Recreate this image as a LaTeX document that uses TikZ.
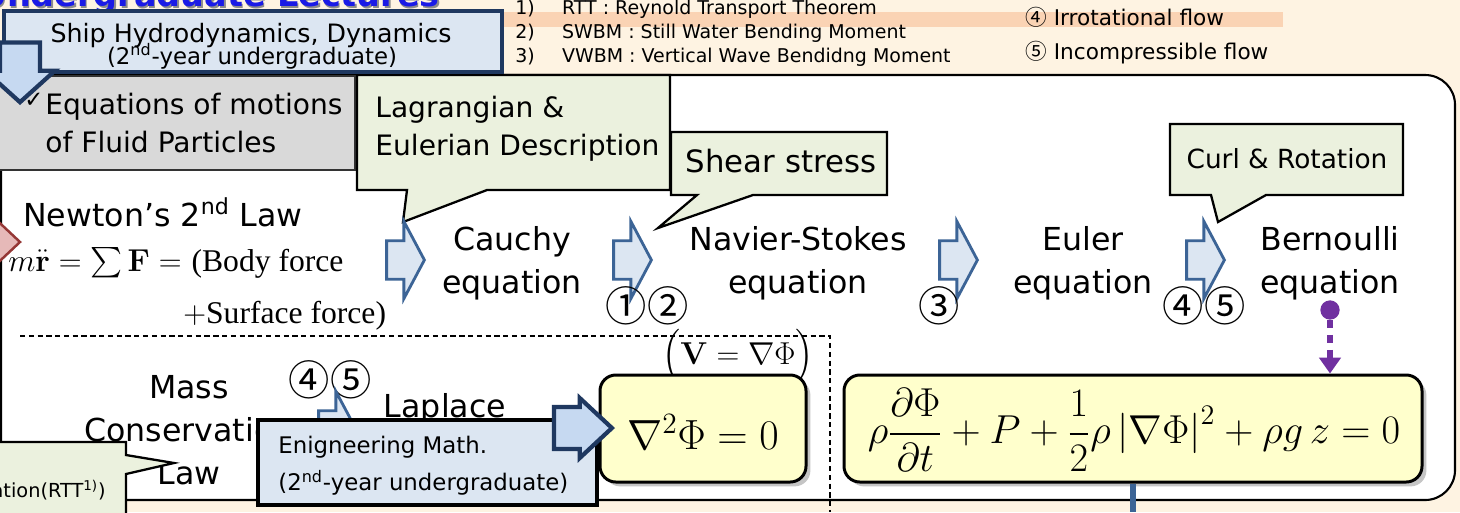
\RequirePackage{fix-cm}
\documentclass[tikz,border=0pt]{standalone}
\usepackage{amsmath}
\usepackage[no-math]{fontspec}
\setmainfont{DejaVu Sans}
\newfontfamily\timesfont{Liberation Serif}
\newfontfamily\cjkfont{Noto Sans CJK KR}
\usetikzlibrary{arrows.meta,positioning,shapes.arrows,fit,shadows}
\definecolor{cream}{RGB}{254,243,226}
\definecolor{peach}{RGB}{250,211,180}
\definecolor{titleblue}{RGB}{26,26,230}
\definecolor{navy}{RGB}{31,56,96}
\definecolor{paleblue}{RGB}{220,230,242}
\definecolor{midblue}{RGB}{198,217,241}
\definecolor{arrowblue}{RGB}{60,100,150}
\definecolor{palegreen}{RGB}{235,241,222}
\definecolor{greyfill}{RGB}{217,217,217}
\definecolor{paleyellow}{RGB}{255,255,204}
\definecolor{rosefill}{RGB}{230,185,184}
\definecolor{rosedraw}{RGB}{149,55,53}
\definecolor{flowpurple}{RGB}{112,48,160}
\newcommand{\bigfont}{\fontsize{18}{24.5}\selectfont}

\begin{document}
\begin{tikzpicture}[x=0.02cm, y=-0.02cm, >=Latex, every node/.style={inner sep=0pt}]
\tikzstyle{lbl}=[font=\bigfont, align=center]
\tikzstyle{circnum}=[font=\cjkfont\fontsize{23.5}{23.5}\selectfont]
\tikzstyle{barrow}=[single arrow, draw=arrowblue, fill=paleblue, line width=1.6pt, minimum height=21.5pt, inner xsep=0pt, inner ysep=10.2pt, single arrow head extend=11pt, single arrow tip angle=124, anchor=tip]
\tikzstyle{navyarrow}=[single arrow, draw=navy, fill=midblue, line width=2.4pt, anchor=tip]
\tikzstyle{callout}=[draw=black, fill=palegreen, line width=1.3pt]
\tikzstyle{ybox}=[draw=black, fill=paleyellow, line width=1.7pt, rounded corners=9pt, drop shadow={shadow xshift=2.5pt, shadow yshift=-2.5pt, opacity=0.45}]
\tikzstyle{pdot}=[circle, fill=flowpurple, minimum size=11pt]
\useasboundingbox (0,0) rectangle (1460,512);
\clip (0,0) rectangle (1460,512);
\fill[cream] (0,0) rectangle (1460,512);
% heading and notes
\node[anchor=base east, font=\fontsize{19}{19}\selectfont\bfseries, text=black!45] (titleshadow) at (441.5,8) {Undergraduate Lectures};
\node[anchor=base east, font=\fontsize{19}{19}\selectfont\bfseries, text=titleblue] (title) at (440,6.5) {Undergraduate Lectures};
\fill[peach] (480,12) rectangle (1283,27);
\node[anchor=base west, font=\fontsize{10.8}{13.9}\selectfont] (notes) at (515,14) {\begin{tabular}[t]{@{}p{26.6pt}@{}l@{}}1) & RTT : Reynold Transport Theorem\\ 2) & SWBM : Still Water Bending Moment\\ 3) & VWBM : Vertical Wave Bendidng Moment\end{tabular}};
\node[anchor=base west, font=\fontsize{12.3}{19.8}\selectfont] (flows) at (1025,25) {\begin{tabular}[t]{@{}l@{}}{\cjkfont ④} Irrotational flow\\ {\cjkfont ⑤} Incompressible flow\end{tabular}};
% board
\node[draw=black, fill=white, line width=1.2pt, rounded corners=17pt, fit={(1,75) (1455,500)}] (board) {};
\node[draw=black!80, fill=greyfill, line width=1.3pt, fit={(-10,76) (355,170)}] (eqbox) {};
\node[anchor=north west, align=left, font=\fontsize{16}{21.5}\selectfont] (eqtext) at (45,93) {Equations of motions\\of Fluid Particles};
\draw[callout] (357,75) -- (670,75) -- (670,190) -- (487,190) -- (403,222) -- (407,190) -- (357,190) -- cycle;
\node[anchor=north west, align=left, font=\fontsize{16}{21.5}\selectfont] (lagr) at (375,96) {Lagrangian \&\\Eulerian Description};
\node[draw=navy, fill=paleblue, line width=2.8pt, fit={(4,11) (502,72)}] (ship) {};
\node[anchor=base, font=\fontsize{14.4}{14}\selectfont] (shiptitle) at (251,42) {Ship Hydrodynamics, Dynamics};
\node[anchor=base, font=\fontsize{13}{13}\selectfont] (shipyear) at (252,64) {(2\textsuperscript{nd}-year undergraduate)};
\node[navyarrow, rotate=-90, minimum height=34pt, inner xsep=0pt, inner ysep=10.2pt, single arrow head extend=8.5pt, single arrow tip angle=96] (down) at (20,105) {};
\node[font=\fontsize{13}{13}\selectfont] (tick) at (34,100) {✓};
\draw[callout] (671,132) -- (887,132) -- (887,195) -- (753,195) -- (658,228) -- (697,195) -- (671,195) -- cycle;
\node[anchor=base, font=\fontsize{17.5}{17.5}\selectfont] (shear) at (781,172) {Shear stress};
\draw[callout] (1170,124) -- (1403,124) -- (1403,195) -- (1266,195) -- (1218,222) -- (1211,195) -- (1170,195) -- cycle;
\node[anchor=base, font=\fontsize{15}{15}\selectfont] (curl) at (1287,168) {Curl \& Rotation};
% upper chain
\draw[draw=rosedraw, fill=rosefill, line width=1.4pt] (-30,195) -- (20,242) -- (-30,289) -- cycle;
\node[anchor=base, font=\bigfont] (newton) at (163,226) {Newton’s 2\textsuperscript{nd} Law};
\node[anchor=base west, font=\fontsize{18}{18}\selectfont] (newtoneq) at (8,271) {$m\ddot{\mathbf r}=\sum\mathbf F=$ \timesfont(Body force};
\node[anchor=base west, font=\timesfont\fontsize{18}{18}\selectfont] (surface) at (183,323) {$+$Surface force)};
\node[barrow] (a1) at (426,260) {};
\node[barrow] (a2) at (653,260) {};
\node[barrow] (a3) at (979,260) {};
\node[barrow] (a4) at (1226,260) {};
\node[lbl] (cauchy) at (512,263) {Cauchy\\equation};
\node[lbl] (navier) at (798,263) {Navier-Stokes\\equation};
\node[lbl] (euler) at (1083,263) {Euler\\equation};
\node[lbl] (bern) at (1330,263) {Bernoulli\\equation};
\node[circnum] (c12) at (647,306) {①②};
\node[circnum] (c3) at (939,306) {③};
\node[circnum] (c45) at (1204,306) {④⑤};
% lower part
\coordinate (dl) at (20,336);
\coordinate (dc) at (830,336);
\coordinate (db) at (830,512);
\draw[line width=0.8pt, dash pattern=on 3pt off 2pt] (dl) -- (dc) -- (db);
\node[font=\fontsize{18}{18}\selectfont] (vgrad) at (738,357) {$\Bigl(\mathbf V=\nabla\Phi\Bigr)$};
\node[ybox, fit={(600,375) (806,482)}] (lapbox) {};
\node[font=\fontsize{24}{24}\selectfont] (lapeq) at (703,432) {$\nabla^2\Phi=0$};
\node[ybox, fit={(844,375) (1422,482)}] (bernbox) {};
\node[font=\fontsize{23}{23}\selectfont] (berneq) at (1134,430) {$\displaystyle\rho\frac{\partial\Phi}{\partial t}+P+\frac12\rho\left|\nabla\Phi\right|^2+\rho g\,z=0$};
\node[pdot] (bdot) at (1330,310) {};
\draw[flowpurple, line width=3.4pt, dash pattern=on 4.5pt off 4pt, -{Triangle[width=12pt,length=9pt]}] (bdot) -- (bdot |- bernbox.north);
\coordinate (bline) at (1133,512);
\draw[arrowblue, line width=3pt] (bernbox.south -| bline) -- (bline);
\node[lbl] (mass) at (189,430) {Mass\\Conservation\\Law};
\node[circnum] (c45b) at (330,380) {④⑤};
\node[barrow] (a5) at (358,430) {};
\node[anchor=base, font=\bigfont] (laplace) at (445,417) {Laplace};
\node[pdot] (ldot) at (541,428) {};
\draw[callout] (-10,442) -- (126,442) -- (126,455) -- (174,463) -- (126,474) -- (126,520) -- (-10,520) -- cycle;
\node[anchor=base east, font=\fontsize{11}{11}\selectfont] (rtt) at (106,497) {ation(RTT\textsuperscript{1)})};
\node[draw=black, fill=paleblue, line width=2.8pt, fit={(258,420) (597,505)}] (engbox) {};
\node[anchor=north west, align=left, font=\fontsize{13}{21}\selectfont] (engtext) at (278,436) {Enigneering Math.\\(2\textsuperscript{nd}-year undergraduate)};
\node[navyarrow, minimum height=33pt, inner xsep=0pt, inner ysep=10.8pt, single arrow head extend=5.1pt, single arrow tip angle=86] (engarrow) at (615,428) {};
\end{tikzpicture}
\end{document}
